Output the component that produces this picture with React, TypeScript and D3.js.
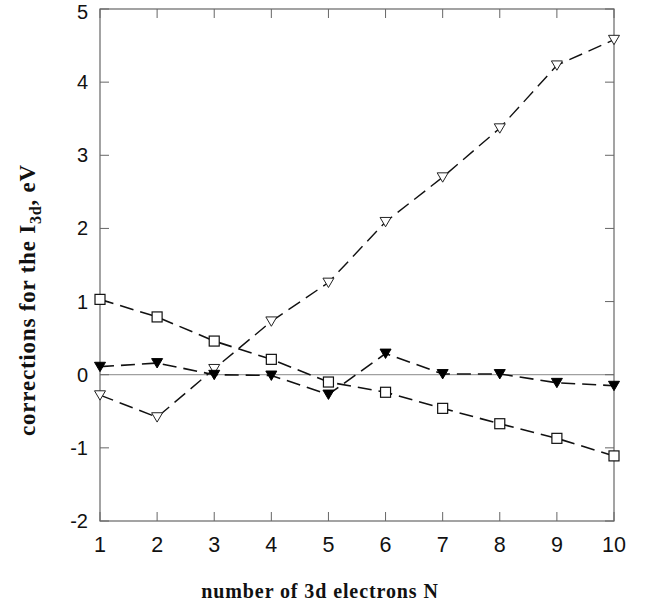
import React from "react";
import * as d3 from "d3";

const xValues = [1, 2, 3, 4, 5, 6, 7, 8, 9, 10];
const squares = [1.03, 0.79, 0.46, 0.21, -0.1, -0.24, -0.46, -0.67, -0.87, -1.11];
const filledTri = [0.11, 0.16, 0.0, -0.01, -0.27, 0.29, 0.01, 0.01, -0.11, -0.15];
const openTri = [-0.28, -0.58, 0.08, 0.73, 1.26, 2.09, 2.7, 3.37, 4.23, 4.58];
const xTicks = [1, 2, 3, 4, 5, 6, 7, 8, 9, 10];
const yTicks = [-2, -1, 0, 1, 2, 3, 4, 5];

const W = 649, H = 610;
const L = 100, R = 614, T = 9, B = 521;

export default function App() {
  const x = d3.scaleLinear().domain([1, 10]).range([L, R]);
  const y = d3.scaleLinear().domain([-2, 5]).range([B, T]);
  const line = d3.line<number>().x((_, i) => x(xValues[i])).y((d) => y(d));
  const axisColor = "#666";
  const tri = (cx: number, cy: number, s: number) =>
    `M${cx - s},${cy - s * 0.8}L${cx + s},${cy - s * 0.8}L${cx},${cy + s * 0.9}Z`;
  const dash = "14,7";
  return (
    <svg width={W} height={H} style={{ position: "absolute", left: 0, top: 0, background: "#fff" }}>
      {/* zero line */}
      <line x1={L} x2={R} y1={y(0)} y2={y(0)} stroke="#888" strokeWidth={1} />
      {/* frame */}
      <rect x={L} y={T} width={R - L} height={B - T} fill="none" stroke={axisColor} strokeWidth={1.2} />
      {xTicks.map((t) => (
        <g key={"xt" + t}>
          <line x1={x(t)} x2={x(t)} y1={B} y2={B - 9} stroke={axisColor} />
          <line x1={x(t)} x2={x(t)} y1={T} y2={T + 9} stroke={axisColor} />
          <text x={x(t)} y={552} textAnchor="middle" fontFamily="Liberation Sans, Arial, sans-serif" fontSize={21.5} fill="#111">{t}</text>
        </g>
      ))}
      {yTicks.map((t) => (
        <g key={"yt" + t}>
          <line x1={L} x2={L + 9} y1={y(t)} y2={y(t)} stroke={axisColor} />
          <line x1={R} x2={R - 9} y1={y(t)} y2={y(t)} stroke={axisColor} />
          <text x={L - 12} y={Math.max(y(t) + 7, 18.5)} textAnchor="end" fontFamily="Liberation Sans, Arial, sans-serif" fontSize={20} fill="#111">{t}</text>
        </g>
      ))}
      {/* series lines */}
      <path d={line(openTri) || ""} fill="none" stroke="#111" strokeWidth={1.4} strokeDasharray={dash} />
      <path d={line(squares) || ""} fill="none" stroke="#111" strokeWidth={1.6} strokeDasharray={dash} />
      <path d={line(filledTri) || ""} fill="none" stroke="#111" strokeWidth={1.6} strokeDasharray={dash} />
      {/* markers */}
      {squares.map((v, i) => (
        <rect key={"s" + i} x={x(xValues[i]) - 5} y={y(v) - 5} width={10} height={10} fill="#fff" stroke="#111" strokeWidth={1.2} />
      ))}
      {openTri.map((v, i) => (
        <path key={"o" + i} d={tri(x(xValues[i]), y(v), 5.5)} fill="#fff" stroke="#222" strokeWidth={1} />
      ))}
      {filledTri.map((v, i) => (
        <path key={"f" + i} d={tri(x(xValues[i]), y(v), 5.5)} fill="#000" stroke="#000" strokeWidth={1} />
      ))}
      {/* axis titles */}
      <text x={320} y={598} textAnchor="middle" fontFamily="Liberation Serif, Times New Roman, serif" fontWeight="bold" fontSize={20} letterSpacing={0.9} fill="#111">
        number of 3d electrons N
      </text>
      <text transform={`translate(35,300) rotate(-90)`} textAnchor="middle" fontFamily="Liberation Serif, Times New Roman, serif" fontWeight="bold" fontSize={23} letterSpacing={0.8} fill="#111">
        corrections for the I<tspan fontSize={16} dy={6}>3d</tspan><tspan dy={-6}>, eV</tspan>
      </text>
    </svg>
  );
}
